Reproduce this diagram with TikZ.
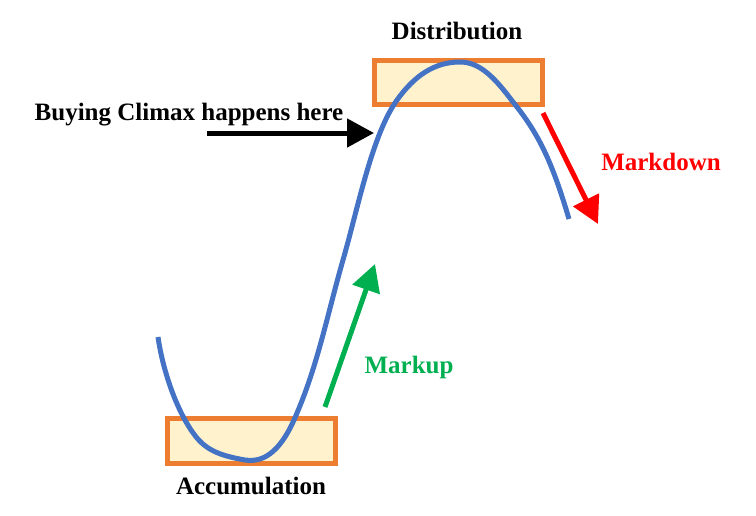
\documentclass[tikz,border=0pt]{standalone}
\usepackage{fontspec}
\usepackage{xcolor}
\usetikzlibrary{arrows.meta, positioning}
\setmainfont{Liberation Serif}
\definecolor{boxedge}{HTML}{ED7D31}
\definecolor{boxfill}{HTML}{FFF2CC}
\definecolor{curveblue}{HTML}{4472C4}
\definecolor{upgreen}{HTML}{00B050}
\newcommand{\lbl}{\fontsize{25}{29}\selectfont\bfseries}

\begin{document}
\begin{tikzpicture}[x=1pt, y=-1pt, node distance = 9pt,
    zonebox/.style = {draw=boxedge, fill=boxfill, line width=5pt, minimum width=168pt, inner sep=0pt, outer sep=0pt},
    move/.style = {line width=5pt, -{Triangle[length=27pt, width=28pt]}}]
    \useasboundingbox (0,0) rectangle (756,515);
    \node[zonebox, minimum height=44pt] (D) at (458.5,82.5) {};
    \node[zonebox, minimum height=45pt] (A) at (251.5,441) {};
    \node (Dlabel) at (457,31) {\lbl Distribution};
    \node (Alabel) at (251,486) {\lbl Accumulation};
    \node (Blabel) at (189,115) {\lbl Buying Climax happens here};
    \node[text=red] (Mdown) at (661,162) {\lbl Markdown};
    \node[text=upgreen] (Mup) at (409,367) {\lbl Markup};
    \draw[curveblue, line width=5pt] (158,337)
      .. controls (163,372) and (178,415) .. (197,438)
      .. controls (208,451) and (222,456) .. (245,460)
      .. controls (265,463) and (282,450) .. (297,413)
      .. controls (318,364) and (328,312) .. (343,260)
      .. controls (358,208) and (372,135) .. (397,100)
      .. controls (415,75) and (435,62) .. (460,62)
      .. controls (480,62) and (495,78) .. (513,102)
      .. controls (540,135) and (553,165) .. (569,219);
    \coordinate (b1) at (207,133);
    \coordinate (b2) at (374,133);
    \coordinate (u1) at (325,407);
    \coordinate (u2) at (375,264);
    \coordinate (d1) at (543,113);
    \coordinate (d2) at (598,224);
    \foreach \i\j\c in {b1/b2/black, u1/u2/upgreen, d1/d2/red} {
      \draw[move, \c] (\i) -- (\j);
    }
\end{tikzpicture}
\end{document}
